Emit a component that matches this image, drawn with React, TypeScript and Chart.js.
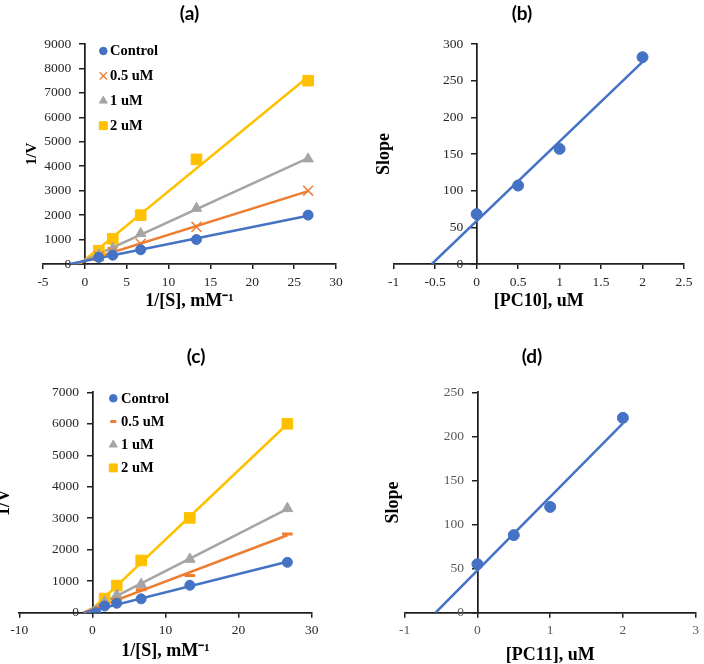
import React, { useEffect, useRef } from 'react';
import { Chart, registerables } from 'chart.js';
import { drawPoint } from 'chart.js/helpers';

Chart.register(...registerables);

// ---------------- data ----------------
const xS = [1.67, 3.33, 6.67, 13.33, 26.67];

// panel (a)
const aControl = [270, 360, 580, 1000, 2000];
const aHalf = [320, 490, 830, 1520, 3000];
const aOne = [380, 640, 1250, 2280, 4300];
const aTwo = [540, 1030, 2000, 4280, 7500];

// panel (c)
const cControlX = [0.45, 1.67, 3.33, 6.67, 13.33, 26.67];
const cControl = [0, 210, 300, 440, 870, 1600];
const cHalf = [260, 430, 730, 1180, 2500];
const cOne = [340, 560, 900, 1700, 3310];
const cTwo = [450, 860, 1660, 3010, 6000];

// panels (b) and (d)
const conc = [0, 0.5, 1, 2];
const slopeB = [68, 107, 157, 282];
const slopeD = [55, 88, 120, 221];

const seriesLabels = ['Control', '0.5 uM', '1 uM', '2 uM'];
const panelTitles = ['(a)', '(b)', '(c)', '(d)'];
const xTitles = ['1/[S], mM⁻¹', '[PC10], uM', '1/[S], mM⁻¹', '[PC11], uM'];
const yTitles = ['1/V', 'Slope', '1/V', 'Slope'];

const BLUE = '#4472C4';
const ORANGE = '#ED7D31';
const GRAY = '#A5A5A5';
const GOLD = '#FFC000';
const AXIS = '#1f1f1f';
const SERIF = "'Liberation Serif', 'Times New Roman', serif";

type Series = {
  label: string; xs: number[]; ys: number[]; color: string; style: string;
  r: number; bw: number; lr: number; lbw: number;
};

function fitLine(xs: number[], ys: number[]) {
  const n = xs.length;
  const mx = xs.reduce((s, v) => s + v, 0) / n;
  const my = ys.reduce((s, v) => s + v, 0) / n;
  let sxy = 0, sxx = 0;
  for (let i = 0; i < n; i++) {
    sxy += (xs[i] - mx) * (ys[i] - my);
    sxx += (xs[i] - mx) * (xs[i] - mx);
  }
  const m = sxy / sxx;
  return { m, b: my - m * mx };
}

function trendPoints(xs: number[], ys: number[]) {
  const { m, b } = fitLine(xs, ys);
  const x0 = -b / m;
  const x1 = Math.max(...xs);
  return [{ x: x0, y: 0 }, { x: x1, y: m * x1 + b }];
}

// y axis sits at x = 0 inside the plot; move its labels left of the tick marks
const shiftYLabels = {
  id: 'shiftYLabels',
  beforeDraw(chart: any) {
    const s = chart.scales.y;
    if (!s) return;
    const items = s.getLabelItems();
    items.forEach((it: any) => {
      if (!it._shifted && it.options && it.options.translation) {
        it.options.translation[0] -= 13.5;
        it._shifted = true;
      }
    });
  },
};

const innerLegend = {
  id: 'innerLegend',
  afterDatasetsDraw(chart: any, _args: any, opts: any) {
    if (!opts || !opts.x) return;
    const { ctx, chartArea } = chart;
    const items = chart.data.datasets.filter((d: any) => d.inLegend);
    ctx.save();
    items.forEach((d: any, i: number) => {
      const cx = chartArea.left + opts.x;
      const cy = chartArea.top + opts.y + i * opts.gap;
      ctx.fillStyle = d.pointBackgroundColor;
      ctx.strokeStyle = d.pointBorderColor;
      ctx.lineWidth = d.legendBorder;
      drawPoint(ctx, { pointStyle: d.pointStyle, radius: d.legendRadius, borderWidth: d.legendBorder, rotation: 0 } as any, cx, cy);
      ctx.fillStyle = '#000';
      ctx.font = `bold ${opts.size}px ${SERIF}`;
      ctx.textAlign = 'left';
      ctx.textBaseline = 'middle';
      ctx.fillText(d.label, chartArea.left + opts.textX, cy + 0.5);
    });
    ctx.restore();
  },
};

type PanelCfg = {
  left: number; top: number; w: number; h: number;
  padTop: number; padRight: number; leftW: number; bottomH: number;
  xr: [number, number, number]; yr: [number, number, number];
  xTitle: string; yTitle: string; yTitleSize: number; yTitlePad: number; xTitlePad: number;
  tickColor: string; series: Series[]; legend?: any; trendWidth: number;
};

function mk(label: string, xs: number[], ys: number[], color: string, style: string, r: number, bw: number, lr: number, lbw: number): Series {
  return { label, xs, ys, color, style, r, bw, lr, lbw };
}

const panels: PanelCfg[] = [
  {
    left: 0, top: 0, w: 352, h: 320, padTop: 44, padRight: 16, leftW: 43, bottomH: 56,
    xr: [-5, 30, 5], yr: [0, 9000, 1000],
    xTitle: xTitles[0], yTitle: yTitles[0], yTitleSize: 15, yTitlePad: 24.5, xTitlePad: 10,
    tickColor: '#262626', trendWidth: 2.5,
    series: [
      mk(seriesLabels[0], xS, aControl, BLUE, 'circle', 5, 1, 3.8, 1),
      mk(seriesLabels[1], xS, aHalf, ORANGE, 'crossRot', 7, 1.5, 5.2, 1.3),
      mk(seriesLabels[2], xS, aOne, GRAY, 'triangle', 6, 1, 4.6, 1),
      mk(seriesLabels[3], xS, aTwo, GOLD, 'rect', 7.5, 1, 5.6, 1),
    ],
    legend: { x: 60.3, y: 7, gap: 24.9, textX: 67, size: 14.5 },
  },
  {
    left: 352, top: 0, w: 352, h: 320, padTop: 44, padRight: 20, leftW: 41.7, bottomH: 56,
    xr: [-1, 2.5, 0.5], yr: [0, 300, 50],
    xTitle: xTitles[1], yTitle: yTitles[1], yTitleSize: 18, yTitlePad: 23, xTitlePad: 10,
    tickColor: '#262626', trendWidth: 2.5,
    series: [mk('Slope', conc, slopeB, BLUE, 'circle', 5.5, 1, 4, 1)],
  },
  {
    left: 0, top: 330, w: 352, h: 334, padTop: 62.3, padRight: 40.3, leftW: 19.3, bottomH: 51.3,
    xr: [-10, 30, 10], yr: [0, 7000, 1000],
    xTitle: xTitles[2], yTitle: yTitles[2], yTitleSize: 18, yTitlePad: -5, xTitlePad: 3.3,
    tickColor: '#262626', trendWidth: 2.5,
    series: [
      mk(seriesLabels[0], cControlX, cControl, BLUE, 'circle', 5, 1, 3.8, 1),
      mk(seriesLabels[1], xS, cHalf, ORANGE, 'line', 5.3, 3, 3, 3),
      mk(seriesLabels[2], xS, cOne, GRAY, 'triangle', 6.2, 1, 4.6, 1),
      mk(seriesLabels[3], xS, cTwo, GOLD, 'rect', 7.5, 1, 5.6, 1),
    ],
    legend: { x: 94, y: 6, gap: 23.2, textX: 101.7, size: 14.5 },
  },
  {
    left: 352, top: 330, w: 352, h: 334, padTop: 62.3, padRight: 4, leftW: 52.7, bottomH: 51.3,
    xr: [-1, 3, 1], yr: [0, 250, 50],
    xTitle: xTitles[3], yTitle: yTitles[3], yTitleSize: 18, yTitlePad: 32.7, xTitlePad: 0,
    tickColor: '#595959', trendWidth: 2.5,
    series: [mk('Slope', conc, slopeD, BLUE, 'circle', 5.5, 1, 4, 1)],
  },
];

const titlePos = [
  { x: 189.5, y: 12 },
  { x: 522, y: 12 },
  { x: 196, y: 355 },
  { x: 532, y: 355 },
];

function Panel({ cfg }: { cfg: PanelCfg }) {
  const ref = useRef<HTMLCanvasElement>(null);
  useEffect(() => {
    const datasets: any[] = [];
    cfg.series.forEach((s) => {
      datasets.push({
        label: s.label,
        data: s.xs.map((x, k) => ({ x, y: s.ys[k] })),
        showLine: false,
        pointStyle: s.style,
        pointRadius: s.r,
        pointHoverRadius: s.r,
        pointBackgroundColor: s.color,
        pointBorderColor: s.color,
        pointBorderWidth: s.bw,
        backgroundColor: s.color,
        borderColor: s.color,
        order: 1,
        inLegend: true,
        legendRadius: s.lr,
        legendBorder: s.lbw,
        xAxisID: 'x',
        yAxisID: 'y',
      });
      datasets.push({
        label: s.label + ' trendline',
        data: trendPoints(s.xs, s.ys),
        showLine: true,
        pointRadius: 0,
        pointHoverRadius: 0,
        borderColor: s.color,
        backgroundColor: s.color,
        borderWidth: cfg.trendWidth,
        fill: false,
        order: 2,
        xAxisID: 'x',
        yAxisID: 'y',
      });
    });
    const tickFont = { family: SERIF, size: 13.5 };
    const grid = { display: true, drawOnChartArea: false, drawTicks: true, tickLength: 5, color: AXIS, lineWidth: 1.5 };
    const border = { display: true, color: AXIS, width: 1.75 };
    const chart = new Chart(ref.current as HTMLCanvasElement, {
      type: 'scatter',
      data: { datasets },
      options: {
        animation: false,
        responsive: false,
        maintainAspectRatio: false,
        events: [],
        layout: { padding: { top: cfg.padTop, right: cfg.padRight, bottom: 0, left: 0 } },
        plugins: {
          legend: { display: false },
          tooltip: { enabled: false },
          title: { display: false },
          innerLegend: cfg.legend ? cfg.legend : {},
        } as any,
        scales: {
          x: {
            type: 'linear',
            position: 'bottom',
            min: cfg.xr[0],
            max: cfg.xr[1],
            afterFit: (s: any) => { s.height = cfg.bottomH; },
            ticks: {
              stepSize: cfg.xr[2], autoSkip: false, maxRotation: 0, padding: 5,
              color: cfg.tickColor, font: tickFont, callback: (v: any) => String(v),
            },
            grid, border,
            title: {
              display: true, text: cfg.xTitle, color: '#000',
              font: { family: SERIF, size: 18, weight: 'bold', lineHeight: 1 },
              padding: { top: 0, bottom: cfg.xTitlePad },
            },
          },
          y: {
            type: 'linear',
            position: { x: 0 },
            min: cfg.yr[0],
            max: cfg.yr[1],
            ticks: {
              stepSize: cfg.yr[2], padding: 8.5, color: cfg.tickColor, font: tickFont,
              callback: (v: any) => String(v),
            },
            grid, border,
          },
          yt: {
            type: 'linear',
            axis: 'y',
            position: 'left',
            display: true,
            afterFit: (s: any) => { s.width = cfg.leftW; },
            ticks: { display: false },
            grid: { display: false, drawTicks: false },
            border: { display: false },
            title: {
              display: true, text: cfg.yTitle, color: '#000',
              font: { family: SERIF, size: cfg.yTitleSize, weight: 'bold', lineHeight: 1 },
              padding: { top: cfg.yTitlePad, bottom: 0 },
            },
          },
        } as any,
      },
      plugins: [innerLegend as any, shiftYLabels as any],
    });
    return () => chart.destroy();
  }, []);
  return (
    <div style={{ position: 'absolute', left: cfg.left, top: cfg.top, width: cfg.w, height: cfg.h }}>
      <canvas ref={ref} width={cfg.w} height={cfg.h} style={{ display: 'block' }} />
    </div>
  );
}

export default function App() {
  return (
    <div style={{ position: 'absolute', left: 0, top: 0, width: 704, height: 664, overflow: 'hidden', background: '#fff' }}>
      {panels.map((p, i) => <Panel key={i} cfg={p} />)}
      {panelTitles.map((t, i) => (
        <div
          key={'t' + i}
          style={{
            position: 'absolute', left: titlePos[i].x - 40, top: titlePos[i].y - 11, width: 80, height: 22,
            lineHeight: '22px', textAlign: 'center', font: "bold 19px Lato, 'Open Sans', sans-serif", color: '#000',
          }}
        >
          {t}
        </div>
      ))}
    </div>
  );
}
